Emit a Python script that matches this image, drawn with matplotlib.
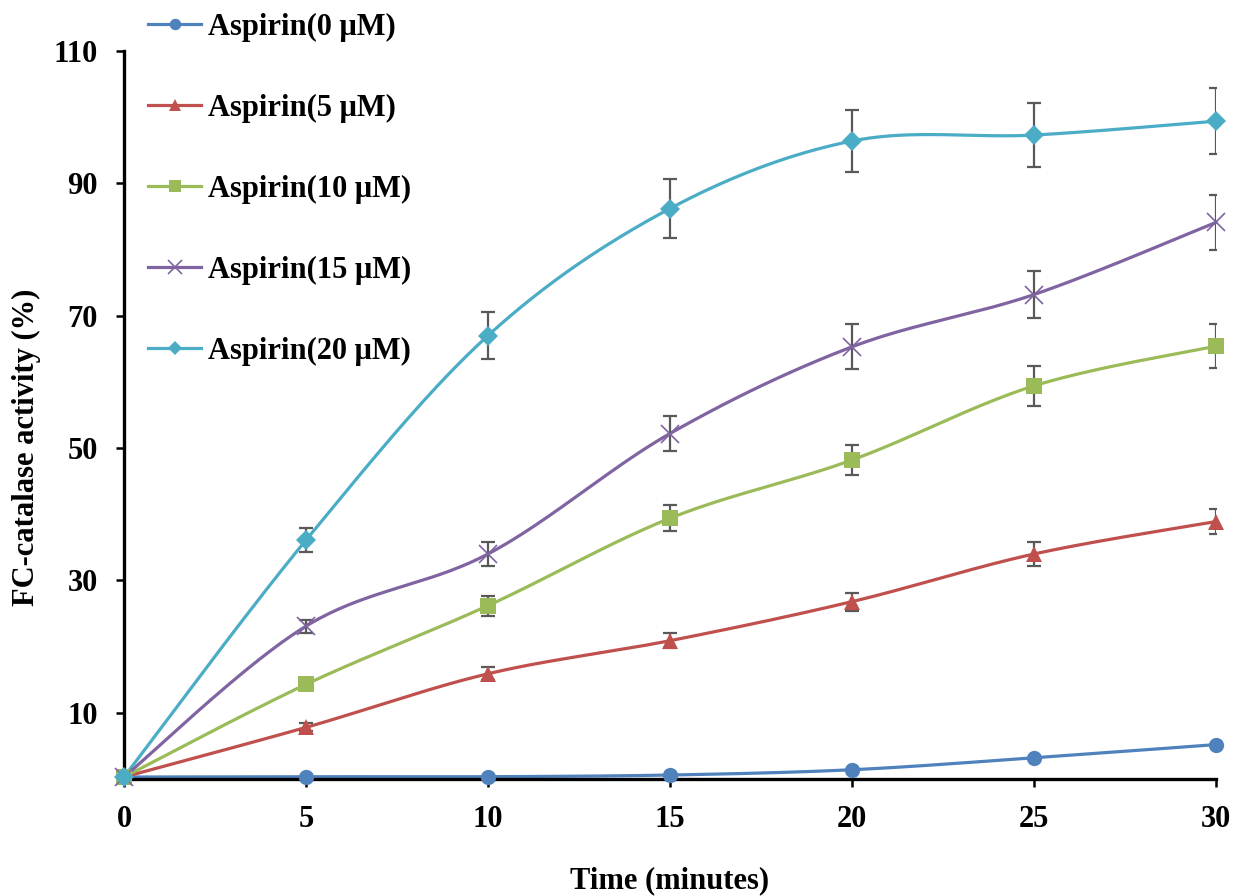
"""FC-catalase activity over time for several aspirin concentrations."""

import numpy as np
import matplotlib.pyplot as plt

# data
time_min = [0, 5, 10, 15, 20, 25, 30]
labels = ['Aspirin(0 μM)', 'Aspirin(5 μM)', 'Aspirin(10 μM)',
          'Aspirin(15 μM)', 'Aspirin(20 μM)']
asp_0 = [0.3, 0.35, 0.35, 0.6, 1.4, 3.2, 5.2]
asp_5 = [0.3, 7.8, 15.9, 20.9, 26.8, 34.0, 38.9]
asp_10 = [0.3, 14.3, 26.2, 39.4, 48.2, 59.4, 65.4]
asp_15 = [0.3, 23.1, 34.0, 52.2, 65.3, 73.2, 84.1]
asp_20 = [0.3, 36.1, 67.0, 86.2, 96.4, 97.3, 99.4]
err_0 = [0, 0, 0, 0, 0, 0, 0]
err_5 = [0, 0.6, 1.0, 1.1, 1.35, 1.8, 1.9]
err_10 = [0, 0.8, 1.5, 1.95, 2.2, 3.0, 3.3]
err_15 = [0, 1.0, 1.8, 2.6, 3.4, 3.6, 4.2]
err_20 = [0, 1.8, 3.5, 4.4, 4.7, 4.9, 5.0]

series = [asp_0, asp_5, asp_10, asp_15, asp_20]
errors = [err_0, err_5, err_10, err_15, err_20]
colors = ['#4F81BD', '#C0504D', '#9BBB59', '#8064A2', '#4BACC6']
markers = ['o', '^', 's', 'x', 'D']
msizes = [11, 11, 11, 13, 10]


def smooth(x, y, n=40):
    """Excel-style smoothed line: cubic Bezier through the points."""
    x = np.asarray(x, float)
    y = np.asarray(y, float)
    px = np.concatenate([[x[0]], x, [x[-1]]])
    py = np.concatenate([[y[0]], y, [y[-1]]])
    t = np.linspace(0, 1, n)[:, None]
    xs, ys = [], []
    for i in range(1, len(px) - 2):
        p0 = np.array([px[i], py[i]])
        p3 = np.array([px[i + 1], py[i + 1]])
        c1 = p0 + (p3 - np.array([px[i - 1], py[i - 1]])) / 6
        c2 = p3 - (np.array([px[i + 2], py[i + 2]]) - p0) / 6
        seg = ((1 - t) ** 3 * p0 + 3 * (1 - t) ** 2 * t * c1
               + 3 * (1 - t) * t ** 2 * c2 + t ** 3 * p3)
        xs.append(seg[:, 0])
        ys.append(seg[:, 1])
    return np.concatenate(xs), np.concatenate(ys)


plt.rcParams['font.family'] = ['Liberation Serif', 'DejaVu Serif']
plt.rcParams['font.weight'] = 'bold'

fig = plt.figure(figsize=(12.37, 8.96), dpi=100)
ax = fig.add_axes([124 / 1237, 1 - 779 / 896, (1216 - 124) / 1237, (779 - 51) / 896])

handles = []
for y, e, c, m, ms in zip(series, errors, colors, markers, msizes):
    sx, sy = smooth(time_min, y)
    ax.plot(sx, sy, color=c, lw=2.3, clip_on=False, zorder=2)
    if any(e):
        eb = ax.errorbar(time_min, y, yerr=e, fmt='none', ecolor='#595959',
                         elinewidth=1.6, capsize=5, capthick=1.6, zorder=3)
        # caps at the right edge get cut by the plot area, as in the original
        for cap in eb[1]:
            cap.set_clip_on(True)
    mew = 1.2 if m == 'x' else 0
    ax.plot(time_min, y, ls='none', marker=m, ms=ms, color=c, mew=mew,
            clip_on=False, zorder=4)
    h, = ax.plot([], [], color=c, lw=2.3, marker=m,
                 ms=ms * 0.75, mew=mew)
    handles.append(h)

ax.set_xlim(0, 30)
ax.set_ylim(0, 110)
ax.set_xticks(time_min)
ax.set_yticks([10, 30, 50, 70, 90, 110])
ax.tick_params(direction='out', length=6, width=1.8, labelsize=22, pad=13)
for s in ['top', 'right']:
    ax.spines[s].set_visible(False)
for s in ['left', 'bottom']:
    ax.spines[s].set_linewidth(2.4)

ax.set_xlabel('Time (minutes)', fontsize=22, fontweight='bold', labelpad=23)
ax.set_ylabel('FC-catalase activity (%)', fontsize=22, fontweight='bold', labelpad=9)
ax.yaxis.label.set_y(0.455)

fig.legend(handles, labels, loc='upper left', bbox_to_anchor=(148 / 1237, 1 - 13 / 896),
           frameon=False, fontsize=22, handlelength=1.75, handletextpad=0.2,
           labelspacing=1.7, borderpad=0, borderaxespad=0)

fig.savefig('out.png', dpi=100)
